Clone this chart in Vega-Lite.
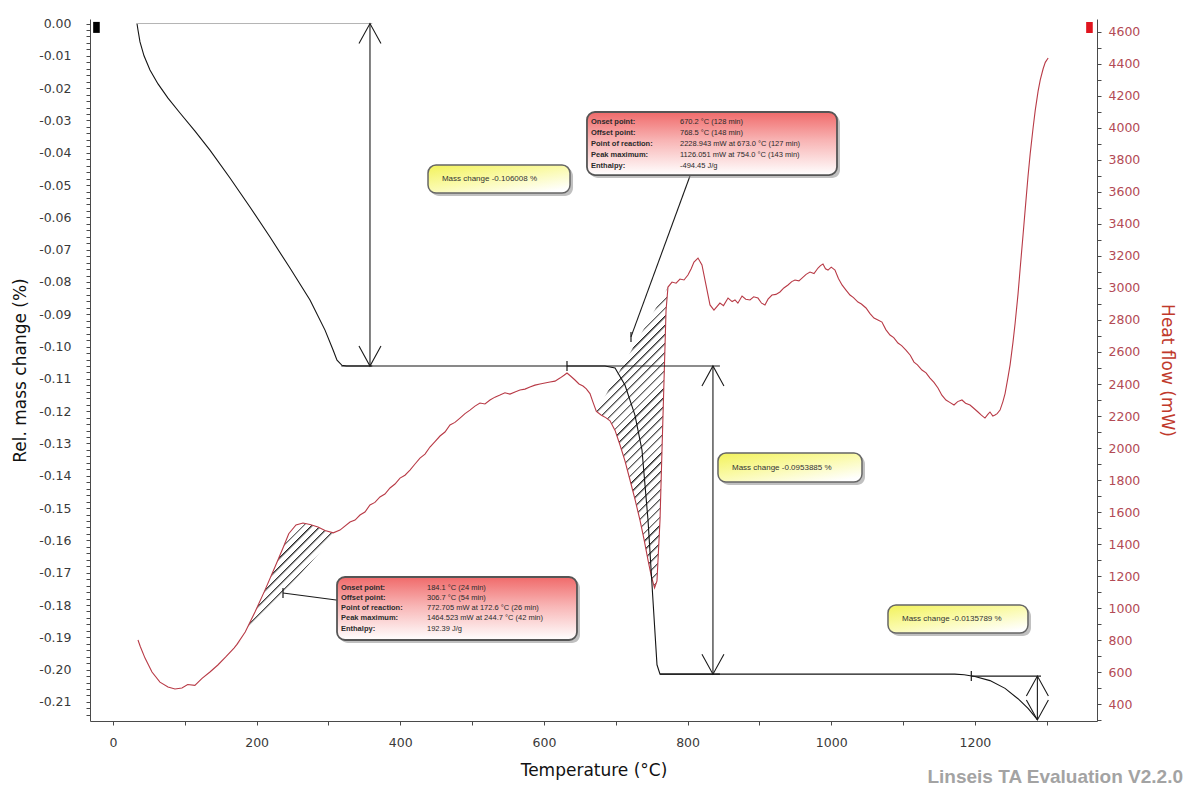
{
  "$schema": "https://vega.github.io/schema/vega-lite/v6.json",
  "width": 1007,
  "height": 702,
  "autosize": {"type": "none"},
  "padding": {"left": 90, "top": 19, "right": 93, "bottom": 73},
  "background": "#ffffff",
  "title": {
    "text": "Linseis TA Evaluation V2.2.0",
    "orient": "bottom",
    "anchor": "end",
    "frame": "group",
    "font": "Liberation Sans",
    "fontSize": 19,
    "fontWeight": "bold",
    "color": "#a3a3a3",
    "dx": 86,
    "dy": -11,
    "offset": 0
  },
  "config": {
    "view": {"stroke": null},
    "axis": {
      "grid": false,
      "labelOverlap": false,
      "tickCount": 300,
      "domainColor": "#4a4a4a",
      "tickColor": "#4a4a4a",
      "tickSize": 4,
      "labelFont": "DejaVu Sans",
      "labelFontSize": 12.5,
      "titleFont": "DejaVu Sans",
      "titleFontSize": 17,
      "titleFontWeight": "normal"
    }
  },
  "datasets": {
    "mass": [
      {"T": 33.4, "m": 0},
      {"T": 34.8, "m": -0.002},
      {"T": 37.6, "m": -0.0057},
      {"T": 43.2, "m": -0.01},
      {"T": 51.5, "m": -0.0144},
      {"T": 62.7, "m": -0.0187},
      {"T": 76.6, "m": -0.0231},
      {"T": 93.3, "m": -0.0277},
      {"T": 114.2, "m": -0.0333},
      {"T": 135.0, "m": -0.0392},
      {"T": 162.9, "m": -0.0478},
      {"T": 190.7, "m": -0.0568},
      {"T": 218.6, "m": -0.0661},
      {"T": 246.4, "m": -0.0757},
      {"T": 274.3, "m": -0.0856},
      {"T": 295.2, "m": -0.0949},
      {"T": 306.3, "m": -0.101},
      {"T": 311.9, "m": -0.1042},
      {"T": 318.8, "m": -0.1058},
      {"T": 325.0, "m": -0.106008},
      {"T": 685.0, "m": -0.106008},
      {"T": 699.0, "m": -0.1066},
      {"T": 712.8, "m": -0.1119},
      {"T": 726.7, "m": -0.1212},
      {"T": 736.5, "m": -0.132},
      {"T": 744.9, "m": -0.1537},
      {"T": 751.8, "m": -0.1785},
      {"T": 757.4, "m": -0.1985},
      {"T": 761.6, "m": -0.2013965},
      {"T": 1172.0, "m": -0.2013965},
      {"T": 1185.0, "m": -0.2016},
      {"T": 1200.0, "m": -0.2021},
      {"T": 1221.0, "m": -0.2034},
      {"T": 1242.0, "m": -0.2058},
      {"T": 1260.0, "m": -0.209},
      {"T": 1274.0, "m": -0.212},
      {"T": 1287.0, "m": -0.2155}
    ],
    "heat": [
      {"T": 34.8, "hf": 800},
      {"T": 38.0, "hf": 760},
      {"T": 44.6, "hf": 687},
      {"T": 54.3, "hf": 600},
      {"T": 65.4, "hf": 537},
      {"T": 76.6, "hf": 506},
      {"T": 86.3, "hf": 494},
      {"T": 96.0, "hf": 500},
      {"T": 104.0, "hf": 522},
      {"T": 114.0, "hf": 517},
      {"T": 124.0, "hf": 560},
      {"T": 135.0, "hf": 600},
      {"T": 146.0, "hf": 644},
      {"T": 157.0, "hf": 694},
      {"T": 168.5, "hf": 750},
      {"T": 172.6, "hf": 772.705},
      {"T": 184.1, "hf": 850},
      {"T": 197.7, "hf": 975},
      {"T": 211.6, "hf": 1112},
      {"T": 225.5, "hf": 1256},
      {"T": 236.7, "hf": 1375},
      {"T": 244.7, "hf": 1464.523},
      {"T": 254.8, "hf": 1519},
      {"T": 264.5, "hf": 1531},
      {"T": 274.3, "hf": 1522},
      {"T": 285.4, "hf": 1506},
      {"T": 295.2, "hf": 1484},
      {"T": 306.7, "hf": 1470},
      {"T": 316.0, "hf": 1487},
      {"T": 330.0, "hf": 1537},
      {"T": 337.0, "hf": 1550},
      {"T": 343.9, "hf": 1581},
      {"T": 350.8, "hf": 1600},
      {"T": 357.8, "hf": 1644},
      {"T": 364.7, "hf": 1660},
      {"T": 371.7, "hf": 1694},
      {"T": 378.6, "hf": 1712},
      {"T": 385.7, "hf": 1750},
      {"T": 392.6, "hf": 1775},
      {"T": 399.6, "hf": 1812},
      {"T": 406.5, "hf": 1830},
      {"T": 413.5, "hf": 1862},
      {"T": 420.5, "hf": 1900},
      {"T": 427.4, "hf": 1937},
      {"T": 434.4, "hf": 1962},
      {"T": 441.3, "hf": 2006},
      {"T": 448.3, "hf": 2040},
      {"T": 455.3, "hf": 2075},
      {"T": 462.2, "hf": 2100},
      {"T": 469.2, "hf": 2144},
      {"T": 476.1, "hf": 2160},
      {"T": 483.1, "hf": 2187},
      {"T": 490.1, "hf": 2215},
      {"T": 497.0, "hf": 2237},
      {"T": 504.0, "hf": 2262},
      {"T": 510.9, "hf": 2281},
      {"T": 517.9, "hf": 2275},
      {"T": 524.9, "hf": 2300},
      {"T": 531.8, "hf": 2318},
      {"T": 538.8, "hf": 2331},
      {"T": 545.7, "hf": 2345},
      {"T": 552.7, "hf": 2337},
      {"T": 559.7, "hf": 2350},
      {"T": 566.6, "hf": 2362},
      {"T": 573.6, "hf": 2368},
      {"T": 580.5, "hf": 2381},
      {"T": 587.5, "hf": 2393},
      {"T": 594.5, "hf": 2400},
      {"T": 601.4, "hf": 2406},
      {"T": 608.4, "hf": 2412},
      {"T": 615.4, "hf": 2418},
      {"T": 622.3, "hf": 2437},
      {"T": 628.0, "hf": 2455},
      {"T": 632.1, "hf": 2469},
      {"T": 637.0, "hf": 2450},
      {"T": 643.2, "hf": 2425},
      {"T": 648.8, "hf": 2400},
      {"T": 654.4, "hf": 2387},
      {"T": 659.0, "hf": 2370},
      {"T": 664.1, "hf": 2340},
      {"T": 668.0, "hf": 2290},
      {"T": 673.0, "hf": 2228.943},
      {"T": 680.0, "hf": 2205},
      {"T": 686.0, "hf": 2190},
      {"T": 692.0, "hf": 2170},
      {"T": 699.0, "hf": 2110},
      {"T": 705.9, "hf": 2019},
      {"T": 712.8, "hf": 1920},
      {"T": 719.8, "hf": 1800},
      {"T": 726.7, "hf": 1680},
      {"T": 733.7, "hf": 1550},
      {"T": 739.3, "hf": 1430},
      {"T": 744.9, "hf": 1300},
      {"T": 749.5, "hf": 1200},
      {"T": 754.0, "hf": 1126.051},
      {"T": 757.4, "hf": 1170},
      {"T": 761.6, "hf": 1550},
      {"T": 764.4, "hf": 1990},
      {"T": 767.2, "hf": 2425},
      {"T": 770.0, "hf": 2860},
      {"T": 772.7, "hf": 3006},
      {"T": 778.3, "hf": 3037},
      {"T": 784.0, "hf": 3030},
      {"T": 789.4, "hf": 3056},
      {"T": 795.0, "hf": 3050},
      {"T": 800.5, "hf": 3081},
      {"T": 805.0, "hf": 3120},
      {"T": 808.9, "hf": 3162},
      {"T": 814.5, "hf": 3187},
      {"T": 820.0, "hf": 3144},
      {"T": 825.6, "hf": 3019},
      {"T": 831.2, "hf": 2894},
      {"T": 836.7, "hf": 2862},
      {"T": 845.0, "hf": 2906},
      {"T": 850.0, "hf": 2890},
      {"T": 856.3, "hf": 2937},
      {"T": 862.0, "hf": 2915},
      {"T": 866.0, "hf": 2925},
      {"T": 870.0, "hf": 2905},
      {"T": 875.8, "hf": 2950},
      {"T": 881.0, "hf": 2930},
      {"T": 886.9, "hf": 2925},
      {"T": 892.0, "hf": 2945},
      {"T": 898.0, "hf": 2937},
      {"T": 903.0, "hf": 2905},
      {"T": 907.7, "hf": 2894},
      {"T": 912.0, "hf": 2930},
      {"T": 917.5, "hf": 2956},
      {"T": 923.0, "hf": 2960},
      {"T": 928.6, "hf": 2975},
      {"T": 934.0, "hf": 3000},
      {"T": 939.8, "hf": 3019},
      {"T": 945.0, "hf": 3040},
      {"T": 949.5, "hf": 3050},
      {"T": 955.0, "hf": 3045},
      {"T": 959.3, "hf": 3062},
      {"T": 965.0, "hf": 3085},
      {"T": 970.4, "hf": 3100},
      {"T": 976.0, "hf": 3090},
      {"T": 981.6, "hf": 3125},
      {"T": 985.0, "hf": 3140},
      {"T": 988.5, "hf": 3150},
      {"T": 992.0, "hf": 3120},
      {"T": 995.5, "hf": 3112},
      {"T": 1000.0, "hf": 3130},
      {"T": 1005.2, "hf": 3112},
      {"T": 1010.0, "hf": 3060},
      {"T": 1015.0, "hf": 3019},
      {"T": 1020.0, "hf": 2990},
      {"T": 1026.1, "hf": 2956},
      {"T": 1031.0, "hf": 2940},
      {"T": 1037.2, "hf": 2912},
      {"T": 1042.0, "hf": 2900},
      {"T": 1048.4, "hf": 2875},
      {"T": 1054.0, "hf": 2840},
      {"T": 1059.5, "hf": 2812},
      {"T": 1065.0, "hf": 2800},
      {"T": 1070.6, "hf": 2787},
      {"T": 1076.0, "hf": 2740},
      {"T": 1081.8, "hf": 2706},
      {"T": 1087.0, "hf": 2690},
      {"T": 1092.9, "hf": 2656},
      {"T": 1098.0, "hf": 2640},
      {"T": 1104.0, "hf": 2612},
      {"T": 1110.0, "hf": 2580},
      {"T": 1115.2, "hf": 2537},
      {"T": 1120.0, "hf": 2520},
      {"T": 1126.3, "hf": 2487},
      {"T": 1132.0, "hf": 2470},
      {"T": 1137.5, "hf": 2437},
      {"T": 1143.0, "hf": 2410},
      {"T": 1148.6, "hf": 2375},
      {"T": 1154.0, "hf": 2330},
      {"T": 1159.7, "hf": 2300},
      {"T": 1165.0, "hf": 2285},
      {"T": 1170.9, "hf": 2269},
      {"T": 1176.0, "hf": 2290},
      {"T": 1182.0, "hf": 2300},
      {"T": 1187.0, "hf": 2280},
      {"T": 1193.2, "hf": 2269},
      {"T": 1198.0, "hf": 2250},
      {"T": 1204.3, "hf": 2225},
      {"T": 1209.0, "hf": 2205},
      {"T": 1214.0, "hf": 2187},
      {"T": 1218.0, "hf": 2210},
      {"T": 1221.0, "hf": 2225},
      {"T": 1225.0, "hf": 2200},
      {"T": 1228.0, "hf": 2206},
      {"T": 1231.0, "hf": 2215},
      {"T": 1235.0, "hf": 2237},
      {"T": 1239.0, "hf": 2290},
      {"T": 1242.0, "hf": 2340},
      {"T": 1246.0, "hf": 2440},
      {"T": 1249.0, "hf": 2520},
      {"T": 1253.0, "hf": 2660},
      {"T": 1256.0, "hf": 2780},
      {"T": 1260.0, "hf": 2960},
      {"T": 1263.0, "hf": 3120},
      {"T": 1267.0, "hf": 3330},
      {"T": 1270.0, "hf": 3490},
      {"T": 1274.0, "hf": 3700},
      {"T": 1277.0, "hf": 3840},
      {"T": 1281.0, "hf": 4000},
      {"T": 1284.0, "hf": 4110},
      {"T": 1288.0, "hf": 4230},
      {"T": 1291.0, "hf": 4300},
      {"T": 1295.0, "hf": 4370},
      {"T": 1298.0, "hf": 4410},
      {"T": 1302.0, "hf": 4437}
    ],
    "segments": [
      {"x1": 33.4, "x2": 361, "y1": 0, "y2": 0, "k": "guide"},
      {"x1": 357.8, "x2": 357.8, "y1": 0, "y2": -0.106008, "k": "main"},
      {"x1": 318, "x2": 361, "y1": -0.106008, "y2": -0.106008, "k": "main"},
      {"x1": 632.1, "x2": 845, "y1": -0.106008, "y2": -0.106008, "k": "main"},
      {"x1": 835.3, "x2": 835.3, "y1": -0.106008, "y2": -0.2013965, "k": "main"},
      {"x1": 761.6, "x2": 845, "y1": -0.2013965, "y2": -0.2013965, "k": "main"},
      {"x1": 1195, "x2": 1292, "y1": -0.202, "y2": -0.202, "k": "main"},
      {"x1": 1287, "x2": 1287, "y1": -0.202, "y2": -0.2155789, "k": "main"},
      {"x1": 313.3, "x2": 236.7, "y1": -0.1785, "y2": -0.1763, "k": "main"},
      {"x1": 803.3, "x2": 721.2, "y1": -0.0472, "y2": -0.097, "k": "main"}
    ],
    "heads": [
      {"T": 357.8, "m": 0, "dir": "up"},
      {"T": 357.8, "m": -0.106008, "dir": "down"},
      {"T": 835.3, "m": -0.106008, "dir": "up"},
      {"T": 835.3, "m": -0.2013965, "dir": "down"},
      {"T": 1287, "m": -0.202, "dir": "up"},
      {"T": 1287, "m": -0.2155789, "dir": "down"}
    ],
    "ticks": [
      {"T": 632.1, "m": -0.106008},
      {"T": 1195, "m": -0.202},
      {"T": 236.7, "m": -0.1763},
      {"T": 721.2, "m": -0.097}
    ],
    "boxes": [
      {"kind": "red", "x1": 659.9, "x2": 1008.0, "y1": -0.02739, "y2": -0.0469},
      {"kind": "red", "x1": 311.9, "x2": 646.0, "y1": -0.17133, "y2": -0.19083},
      {"kind": "yellow", "x1": 438.6, "x2": 636.3, "y1": -0.0438, "y2": -0.05247},
      {"kind": "yellow", "x1": 842.3, "x2": 1042.8, "y1": -0.13295, "y2": -0.14192},
      {"kind": "yellow", "x1": 1079.0, "x2": 1273.9, "y1": -0.17999, "y2": -0.18866}
    ],
    "notes": [
      {"T": 457.9, "m": -0.04813, "text": "Mass change   -0.106008 %", "col": "mass"},
      {"T": 861.8, "m": -0.13744, "text": "Mass change   -0.0953885 %", "col": "mass"},
      {"T": 1098.5, "m": -0.18433, "text": "Mass change   -0.0135789 %", "col": "mass"},
      {"T": 665.5, "m": -0.03049, "text": "Onset point:", "col": "lab"},
      {"T": 665.5, "m": -0.03389, "text": "Offset point:", "col": "lab"},
      {"T": 665.5, "m": -0.0373, "text": "Point of reaction:", "col": "lab"},
      {"T": 665.5, "m": -0.0407, "text": "Peak maximum:", "col": "lab"},
      {"T": 665.5, "m": -0.04411, "text": "Enthalpy:", "col": "lab"},
      {"T": 789.4, "m": -0.03049, "text": "670.2 °C (128 min)", "col": "val"},
      {"T": 789.4, "m": -0.03389, "text": "768.5 °C (148 min)", "col": "val"},
      {"T": 789.4, "m": -0.0373, "text": "2228.943 mW at 673.0 °C (127 min)", "col": "val"},
      {"T": 789.4, "m": -0.0407, "text": "1126.051 mW at 754.0 °C (143 min)", "col": "val"},
      {"T": 789.4, "m": -0.04411, "text": "-494.45 J/g", "col": "val"},
      {"T": 317.4, "m": -0.17473, "text": "Onset point:", "col": "lab"},
      {"T": 317.4, "m": -0.17783, "text": "Offset point:", "col": "lab"},
      {"T": 317.4, "m": -0.18092, "text": "Point of reaction:", "col": "lab"},
      {"T": 317.4, "m": -0.18402, "text": "Peak maximum:", "col": "lab"},
      {"T": 317.4, "m": -0.18743, "text": "Enthalpy:", "col": "lab"},
      {"T": 437.2, "m": -0.17473, "text": "184.1 °C (24 min)", "col": "val"},
      {"T": 437.2, "m": -0.17783, "text": "306.7 °C (54 min)", "col": "val"},
      {"T": 437.2, "m": -0.18092, "text": "772.705 mW at 172.6 °C (26 min)", "col": "val"},
      {"T": 437.2, "m": -0.18402, "text": "1464.523 mW at 244.7 °C (42 min)", "col": "val"},
      {"T": 437.2, "m": -0.18743, "text": "192.39 J/g", "col": "val"}
    ]
  },
  "layer": [
    {
      "layer": [
        {
          "data": {"name": "heat"},
          "transform": [{"filter": {"field": "T", "range": [168.5, 316]}}],
          "mark": {
            "type": "line",
            "strokeOpacity": 0,
            "fill": {
              "gradient": "linear", "x1": 0, "y1": 0, "x2": 0.9116, "y2": 1.075,
              "stops": [
                {"offset": 0, "color": "#262626"}, {"offset": 0.012, "color": "#ffffff"}, {"offset": 0.03846, "color": "#ffffff"},
                {"offset": 0.03846, "color": "#262626"}, {"offset": 0.05046, "color": "#ffffff"}, {"offset": 0.07692, "color": "#ffffff"},
                {"offset": 0.07692, "color": "#262626"}, {"offset": 0.08892, "color": "#ffffff"}, {"offset": 0.11538, "color": "#ffffff"},
                {"offset": 0.11538, "color": "#262626"}, {"offset": 0.12738, "color": "#ffffff"}, {"offset": 0.15385, "color": "#ffffff"},
                {"offset": 0.15385, "color": "#262626"}, {"offset": 0.16585, "color": "#ffffff"}, {"offset": 0.19231, "color": "#ffffff"},
                {"offset": 0.19231, "color": "#262626"}, {"offset": 0.20431, "color": "#ffffff"}, {"offset": 0.23077, "color": "#ffffff"},
                {"offset": 0.23077, "color": "#262626"}, {"offset": 0.24277, "color": "#ffffff"}, {"offset": 0.26923, "color": "#ffffff"},
                {"offset": 0.26923, "color": "#262626"}, {"offset": 0.28123, "color": "#ffffff"}, {"offset": 0.30769, "color": "#ffffff"},
                {"offset": 0.30769, "color": "#262626"}, {"offset": 0.31969, "color": "#ffffff"}, {"offset": 0.34615, "color": "#ffffff"},
                {"offset": 0.34615, "color": "#262626"}, {"offset": 0.35815, "color": "#ffffff"}, {"offset": 0.38462, "color": "#ffffff"},
                {"offset": 0.38462, "color": "#262626"}, {"offset": 0.39662, "color": "#ffffff"}, {"offset": 0.42308, "color": "#ffffff"},
                {"offset": 0.42308, "color": "#262626"}, {"offset": 0.43508, "color": "#ffffff"}, {"offset": 0.46154, "color": "#ffffff"},
                {"offset": 0.46154, "color": "#262626"}, {"offset": 0.47354, "color": "#ffffff"}, {"offset": 0.5, "color": "#ffffff"},
                {"offset": 0.5, "color": "#262626"}, {"offset": 0.512, "color": "#ffffff"}, {"offset": 0.53846, "color": "#ffffff"},
                {"offset": 0.53846, "color": "#262626"}, {"offset": 0.55046, "color": "#ffffff"}, {"offset": 0.57692, "color": "#ffffff"},
                {"offset": 0.57692, "color": "#262626"}, {"offset": 0.58892, "color": "#ffffff"}, {"offset": 0.61538, "color": "#ffffff"},
                {"offset": 0.61538, "color": "#262626"}, {"offset": 0.62738, "color": "#ffffff"}, {"offset": 0.65385, "color": "#ffffff"},
                {"offset": 0.65385, "color": "#262626"}, {"offset": 0.66585, "color": "#ffffff"}, {"offset": 0.69231, "color": "#ffffff"},
                {"offset": 0.69231, "color": "#262626"}, {"offset": 0.70431, "color": "#ffffff"}, {"offset": 0.73077, "color": "#ffffff"},
                {"offset": 0.73077, "color": "#262626"}, {"offset": 0.74277, "color": "#ffffff"}, {"offset": 0.76923, "color": "#ffffff"},
                {"offset": 0.76923, "color": "#262626"}, {"offset": 0.78123, "color": "#ffffff"}, {"offset": 0.80769, "color": "#ffffff"},
                {"offset": 0.80769, "color": "#262626"}, {"offset": 0.81969, "color": "#ffffff"}, {"offset": 0.84615, "color": "#ffffff"},
                {"offset": 0.84615, "color": "#262626"}, {"offset": 0.85815, "color": "#ffffff"}, {"offset": 0.88462, "color": "#ffffff"},
                {"offset": 0.88462, "color": "#262626"}, {"offset": 0.89662, "color": "#ffffff"}, {"offset": 0.92308, "color": "#ffffff"},
                {"offset": 0.92308, "color": "#262626"}, {"offset": 0.93508, "color": "#ffffff"}, {"offset": 0.96154, "color": "#ffffff"},
                {"offset": 0.96154, "color": "#262626"}, {"offset": 0.97354, "color": "#ffffff"}, {"offset": 1, "color": "#ffffff"}
              ]
            }
          },
          "encoding": {
            "x": {"field": "T", "type": "quantitative", "scale": {"domain": [-32, 1370], "nice": false, "zero": false}},
            "y": {"field": "hf", "type": "quantitative", "scale": {"domain": [294, 4681], "nice": false, "zero": false}},
            "order": {"field": "T", "type": "quantitative"}
          }
        },
        {
          "data": {"name": "heat"},
          "transform": [{"filter": {"field": "T", "range": [673.0, 772.7]}}],
          "mark": {
            "type": "line",
            "strokeOpacity": 0,
            "fill": {
              "gradient": "linear", "x1": 0, "y1": 0, "x2": 0.2787, "y2": 1.1716,
              "stops": [
                {"offset": 0, "color": "#262626"}, {"offset": 0.008, "color": "#ffffff"}, {"offset": 0.02381, "color": "#ffffff"},
                {"offset": 0.02381, "color": "#262626"}, {"offset": 0.03181, "color": "#ffffff"}, {"offset": 0.04762, "color": "#ffffff"},
                {"offset": 0.04762, "color": "#262626"}, {"offset": 0.05562, "color": "#ffffff"}, {"offset": 0.07143, "color": "#ffffff"},
                {"offset": 0.07143, "color": "#262626"}, {"offset": 0.07943, "color": "#ffffff"}, {"offset": 0.09524, "color": "#ffffff"},
                {"offset": 0.09524, "color": "#262626"}, {"offset": 0.10324, "color": "#ffffff"}, {"offset": 0.11905, "color": "#ffffff"},
                {"offset": 0.11905, "color": "#262626"}, {"offset": 0.12705, "color": "#ffffff"}, {"offset": 0.14286, "color": "#ffffff"},
                {"offset": 0.14286, "color": "#262626"}, {"offset": 0.15086, "color": "#ffffff"}, {"offset": 0.16667, "color": "#ffffff"},
                {"offset": 0.16667, "color": "#262626"}, {"offset": 0.17467, "color": "#ffffff"}, {"offset": 0.19048, "color": "#ffffff"},
                {"offset": 0.19048, "color": "#262626"}, {"offset": 0.19848, "color": "#ffffff"}, {"offset": 0.21429, "color": "#ffffff"},
                {"offset": 0.21429, "color": "#262626"}, {"offset": 0.22229, "color": "#ffffff"}, {"offset": 0.2381, "color": "#ffffff"},
                {"offset": 0.2381, "color": "#262626"}, {"offset": 0.2461, "color": "#ffffff"}, {"offset": 0.2619, "color": "#ffffff"},
                {"offset": 0.2619, "color": "#262626"}, {"offset": 0.2699, "color": "#ffffff"}, {"offset": 0.28571, "color": "#ffffff"},
                {"offset": 0.28571, "color": "#262626"}, {"offset": 0.29371, "color": "#ffffff"}, {"offset": 0.30952, "color": "#ffffff"},
                {"offset": 0.30952, "color": "#262626"}, {"offset": 0.31752, "color": "#ffffff"}, {"offset": 0.33333, "color": "#ffffff"},
                {"offset": 0.33333, "color": "#262626"}, {"offset": 0.34133, "color": "#ffffff"}, {"offset": 0.35714, "color": "#ffffff"},
                {"offset": 0.35714, "color": "#262626"}, {"offset": 0.36514, "color": "#ffffff"}, {"offset": 0.38095, "color": "#ffffff"},
                {"offset": 0.38095, "color": "#262626"}, {"offset": 0.38895, "color": "#ffffff"}, {"offset": 0.40476, "color": "#ffffff"},
                {"offset": 0.40476, "color": "#262626"}, {"offset": 0.41276, "color": "#ffffff"}, {"offset": 0.42857, "color": "#ffffff"},
                {"offset": 0.42857, "color": "#262626"}, {"offset": 0.43657, "color": "#ffffff"}, {"offset": 0.45238, "color": "#ffffff"},
                {"offset": 0.45238, "color": "#262626"}, {"offset": 0.46038, "color": "#ffffff"}, {"offset": 0.47619, "color": "#ffffff"},
                {"offset": 0.47619, "color": "#262626"}, {"offset": 0.48419, "color": "#ffffff"}, {"offset": 0.5, "color": "#ffffff"},
                {"offset": 0.5, "color": "#262626"}, {"offset": 0.508, "color": "#ffffff"}, {"offset": 0.52381, "color": "#ffffff"},
                {"offset": 0.52381, "color": "#262626"}, {"offset": 0.53181, "color": "#ffffff"}, {"offset": 0.54762, "color": "#ffffff"},
                {"offset": 0.54762, "color": "#262626"}, {"offset": 0.55562, "color": "#ffffff"}, {"offset": 0.57143, "color": "#ffffff"},
                {"offset": 0.57143, "color": "#262626"}, {"offset": 0.57943, "color": "#ffffff"}, {"offset": 0.59524, "color": "#ffffff"},
                {"offset": 0.59524, "color": "#262626"}, {"offset": 0.60324, "color": "#ffffff"}, {"offset": 0.61905, "color": "#ffffff"},
                {"offset": 0.61905, "color": "#262626"}, {"offset": 0.62705, "color": "#ffffff"}, {"offset": 0.64286, "color": "#ffffff"},
                {"offset": 0.64286, "color": "#262626"}, {"offset": 0.65086, "color": "#ffffff"}, {"offset": 0.66667, "color": "#ffffff"},
                {"offset": 0.66667, "color": "#262626"}, {"offset": 0.67467, "color": "#ffffff"}, {"offset": 0.69048, "color": "#ffffff"},
                {"offset": 0.69048, "color": "#262626"}, {"offset": 0.69848, "color": "#ffffff"}, {"offset": 0.71429, "color": "#ffffff"},
                {"offset": 0.71429, "color": "#262626"}, {"offset": 0.72229, "color": "#ffffff"}, {"offset": 0.7381, "color": "#ffffff"},
                {"offset": 0.7381, "color": "#262626"}, {"offset": 0.7461, "color": "#ffffff"}, {"offset": 0.7619, "color": "#ffffff"},
                {"offset": 0.7619, "color": "#262626"}, {"offset": 0.7699, "color": "#ffffff"}, {"offset": 0.78571, "color": "#ffffff"},
                {"offset": 0.78571, "color": "#262626"}, {"offset": 0.79371, "color": "#ffffff"}, {"offset": 0.80952, "color": "#ffffff"},
                {"offset": 0.80952, "color": "#262626"}, {"offset": 0.81752, "color": "#ffffff"}, {"offset": 0.83333, "color": "#ffffff"},
                {"offset": 0.83333, "color": "#262626"}, {"offset": 0.84133, "color": "#ffffff"}, {"offset": 0.85714, "color": "#ffffff"},
                {"offset": 0.85714, "color": "#262626"}, {"offset": 0.86514, "color": "#ffffff"}, {"offset": 0.88095, "color": "#ffffff"},
                {"offset": 0.88095, "color": "#262626"}, {"offset": 0.88895, "color": "#ffffff"}, {"offset": 0.90476, "color": "#ffffff"},
                {"offset": 0.90476, "color": "#262626"}, {"offset": 0.91276, "color": "#ffffff"}, {"offset": 0.92857, "color": "#ffffff"},
                {"offset": 0.92857, "color": "#262626"}, {"offset": 0.93657, "color": "#ffffff"}, {"offset": 0.95238, "color": "#ffffff"},
                {"offset": 0.95238, "color": "#262626"}, {"offset": 0.96038, "color": "#ffffff"}, {"offset": 0.97619, "color": "#ffffff"},
                {"offset": 0.97619, "color": "#262626"}, {"offset": 0.98419, "color": "#ffffff"}, {"offset": 1, "color": "#ffffff"}
              ]
            }
          },
          "encoding": {
            "x": {"field": "T", "type": "quantitative", "scale": {"domain": [-32, 1370], "nice": false, "zero": false}},
            "y": {"field": "hf", "type": "quantitative", "scale": {"domain": [294, 4681], "nice": false, "zero": false}},
            "order": {"field": "T", "type": "quantitative"}
          }
        },
        {
          "data": {"name": "heat"},
          "mark": {"type": "line", "color": "#b83a46", "strokeWidth": 1.1},
          "encoding": {
            "x": {"field": "T", "type": "quantitative", "scale": {"domain": [-32, 1370], "nice": false, "zero": false}},
            "y": {
              "field": "hf", "type": "quantitative",
              "scale": {"domain": [294, 4681], "nice": false, "zero": false},
              "axis": {
                "orient": "right",
                "title": "Heat flow (mW)",
                "titleColor": "#c0392b",
                "labelColor": "#b34a55",
                "tickCount": 300,
                "values": [300, 400, 500, 600, 700, 800, 900, 1000, 1100, 1200, 1300, 1400, 1500, 1600, 1700, 1800, 1900, 2000, 2100, 2200, 2300, 2400, 2500, 2600, 2700, 2800, 2900, 3000, 3100, 3200, 3300, 3400, 3500, 3600, 3700, 3800, 3900, 4000, 4100, 4200, 4300, 4400, 4500, 4600],
                "labelExpr": "datum.value % 200 === 0 && datum.value >= 400 ? format(datum.value, 'd') : ''",
                "labelPadding": 7,
                "titlePadding": 18
              }
            }
          }
        },
        {
          "data": {"values": [{"T": 1359.5, "hf": 4628}]},
          "mark": {"type": "point", "shape": "M-0.6,-1L0.6,-1L0.6,1L-0.6,1Z", "size": 121, "filled": true, "color": "#e0141e", "opacity": 1},
          "encoding": {
            "x": {"field": "T", "type": "quantitative", "scale": {"domain": [-32, 1370], "nice": false, "zero": false}},
            "y": {"field": "hf", "type": "quantitative", "scale": {"domain": [294, 4681], "nice": false, "zero": false}}
          }
        }
      ]
    },
    {
      "layer": [
        {
          "data": {"name": "mass"},
          "mark": {"type": "line", "color": "#141414", "strokeWidth": 1.1},
          "encoding": {
            "x": {
              "field": "T", "type": "quantitative",
              "scale": {"domain": [-32, 1370], "nice": false, "zero": false},
              "axis": {
                "title": "Temperature (°C)",
                "titleColor": "#111111",
                "labelColor": "#3a3a3a",
                "tickCount": 300,
                "values": [0, 100, 200, 300, 400, 500, 600, 700, 800, 900, 1000, 1100, 1200, 1300],
                "labelExpr": "datum.value % 200 === 0 ? format(datum.value, 'd') : ''",
                "labelPadding": 11,
                "titlePadding": 14
              }
            },
            "y": {
              "field": "m", "type": "quantitative",
              "scale": {"domain": [-0.2159, 0.0014], "nice": false, "zero": false},
              "axis": {
                "orient": "left",
                "title": "Rel. mass change (%)",
                "titleColor": "#111111",
                "labelColor": "#3a3a3a",
                "tickCount": 300,
                "values": [0, -0.002, -0.004, -0.006, -0.008, -0.01, -0.012, -0.014, -0.016, -0.018, -0.02, -0.022, -0.024, -0.026, -0.028, -0.03, -0.032, -0.034, -0.036, -0.038, -0.04, -0.042, -0.044, -0.046, -0.048, -0.05, -0.052, -0.054, -0.056, -0.058, -0.06, -0.062, -0.064, -0.066, -0.068, -0.07, -0.072, -0.074, -0.076, -0.078, -0.08, -0.082, -0.084, -0.086, -0.088, -0.09, -0.092, -0.094, -0.096, -0.098, -0.1, -0.102, -0.104, -0.106, -0.108, -0.11, -0.112, -0.114, -0.116, -0.118, -0.12, -0.122, -0.124, -0.126, -0.128, -0.13, -0.132, -0.134, -0.136, -0.138, -0.14, -0.142, -0.144, -0.146, -0.148, -0.15, -0.152, -0.154, -0.156, -0.158, -0.16, -0.162, -0.164, -0.166, -0.168, -0.17, -0.172, -0.174, -0.176, -0.178, -0.18, -0.182, -0.184, -0.186, -0.188, -0.19, -0.192, -0.194, -0.196, -0.198, -0.2, -0.202, -0.204, -0.206, -0.208, -0.21, -0.212, -0.214],
                "labelExpr": "abs(round(datum.value * 1000)) % 10 === 0 ? (datum.value === 0 ? '0.00' : '-' + format(abs(datum.value), '.2f')) : ''",
                "labelPadding": 15,
                "titlePadding": 9
              }
            }
          }
        },
        {
          "data": {"name": "segments"},
          "transform": [{"filter": "datum.k === 'guide'"}],
          "mark": {"type": "rule", "color": "#b4b4b4", "strokeWidth": 1},
          "encoding": {
            "x": {"field": "x1", "type": "quantitative", "scale": {"domain": [-32, 1370], "nice": false, "zero": false}},
            "x2": {"field": "x2"},
            "y": {"field": "y1", "type": "quantitative", "scale": {"domain": [-0.2159, 0.0014], "nice": false, "zero": false}},
            "y2": {"field": "y2"}
          }
        },
        {
          "data": {"name": "segments"},
          "transform": [{"filter": "datum.k === 'main'"}],
          "mark": {"type": "rule", "color": "#1a1a1a", "strokeWidth": 1.1},
          "encoding": {
            "x": {"field": "x1", "type": "quantitative", "scale": {"domain": [-32, 1370], "nice": false, "zero": false}},
            "x2": {"field": "x2"},
            "y": {"field": "y1", "type": "quantitative", "scale": {"domain": [-0.2159, 0.0014], "nice": false, "zero": false}},
            "y2": {"field": "y2"}
          }
        },
        {
          "data": {"name": "heads"},
          "mark": {"type": "point", "filled": false, "size": 1600, "stroke": "#1a1a1a", "strokeWidth": 1.1, "opacity": 1},
          "encoding": {
            "x": {"field": "T", "type": "quantitative", "scale": {"domain": [-32, 1370], "nice": false, "zero": false}},
            "y": {"field": "m", "type": "quantitative", "scale": {"domain": [-0.2159, 0.0014], "nice": false, "zero": false}},
            "shape": {"field": "dir", "type": "nominal", "scale": {"domain": ["up", "down"], "range": ["M-0.55,1L0,0L0.55,1", "M-0.55,-1L0,0L0.55,-1"]}, "legend": null}
          }
        },
        {
          "data": {"name": "ticks"},
          "mark": {"type": "point", "filled": false, "shape": "M0,-1L0,1", "size": 100, "stroke": "#1a1a1a", "strokeWidth": 1.2, "opacity": 1},
          "encoding": {
            "x": {"field": "T", "type": "quantitative", "scale": {"domain": [-32, 1370], "nice": false, "zero": false}},
            "y": {"field": "m", "type": "quantitative", "scale": {"domain": [-0.2159, 0.0014], "nice": false, "zero": false}}
          }
        },
        {
          "data": {"name": "boxes"},
          "mark": {"type": "rect", "cornerRadius": 8, "fill": "#8c8c8c", "opacity": 0.55, "xOffset": 3, "x2Offset": 3, "yOffset": 3, "y2Offset": 3},
          "encoding": {
            "x": {"field": "x1", "type": "quantitative", "scale": {"domain": [-32, 1370], "nice": false, "zero": false}},
            "x2": {"field": "x2"},
            "y": {"field": "y1", "type": "quantitative", "scale": {"domain": [-0.2159, 0.0014], "nice": false, "zero": false}},
            "y2": {"field": "y2"}
          }
        },
        {
          "data": {"name": "boxes"},
          "transform": [{"filter": "datum.kind === 'red'"}],
          "mark": {
            "type": "rect", "cornerRadius": 8, "stroke": "#555555", "strokeWidth": 1.8,
            "fill": {"gradient": "linear", "x1": 0, "y1": 0, "x2": 0, "y2": 1, "stops": [{"offset": 0, "color": "#f06a6a"}, {"offset": 0.45, "color": "#f8b4b4"}, {"offset": 1, "color": "#ffffff"}]}
          },
          "encoding": {
            "x": {"field": "x1", "type": "quantitative", "scale": {"domain": [-32, 1370], "nice": false, "zero": false}},
            "x2": {"field": "x2"},
            "y": {"field": "y1", "type": "quantitative", "scale": {"domain": [-0.2159, 0.0014], "nice": false, "zero": false}},
            "y2": {"field": "y2"}
          }
        },
        {
          "data": {"name": "boxes"},
          "transform": [{"filter": "datum.kind === 'yellow'"}],
          "mark": {
            "type": "rect", "cornerRadius": 8, "stroke": "#666666", "strokeWidth": 1.5,
            "fill": {"gradient": "linear", "x1": 0, "y1": 0, "x2": 0.8, "y2": 1, "stops": [{"offset": 0, "color": "#f2f25a"}, {"offset": 0.5, "color": "#fafaa8"}, {"offset": 1, "color": "#ffffff"}]}
          },
          "encoding": {
            "x": {"field": "x1", "type": "quantitative", "scale": {"domain": [-32, 1370], "nice": false, "zero": false}},
            "x2": {"field": "x2"},
            "y": {"field": "y1", "type": "quantitative", "scale": {"domain": [-0.2159, 0.0014], "nice": false, "zero": false}},
            "y2": {"field": "y2"}
          }
        },
        {
          "data": {"name": "notes"},
          "transform": [{"filter": "datum.col === 'mass'"}],
          "mark": {"type": "text", "align": "left", "baseline": "middle", "font": "Liberation Sans", "fontSize": 8, "color": "#333333"},
          "encoding": {
            "x": {"field": "T", "type": "quantitative", "scale": {"domain": [-32, 1370], "nice": false, "zero": false}},
            "y": {"field": "m", "type": "quantitative", "scale": {"domain": [-0.2159, 0.0014], "nice": false, "zero": false}},
            "text": {"field": "text"}
          }
        },
        {
          "data": {"name": "notes"},
          "transform": [{"filter": "datum.col === 'lab'"}],
          "mark": {"type": "text", "align": "left", "baseline": "middle", "font": "Liberation Sans", "fontSize": 7.5, "fontWeight": "bold", "color": "#2a2a2a"},
          "encoding": {
            "x": {"field": "T", "type": "quantitative", "scale": {"domain": [-32, 1370], "nice": false, "zero": false}},
            "y": {"field": "m", "type": "quantitative", "scale": {"domain": [-0.2159, 0.0014], "nice": false, "zero": false}},
            "text": {"field": "text"}
          }
        },
        {
          "data": {"name": "notes"},
          "transform": [{"filter": "datum.col === 'val'"}],
          "mark": {"type": "text", "align": "left", "baseline": "middle", "font": "Liberation Sans", "fontSize": 7.5, "color": "#2a2a2a"},
          "encoding": {
            "x": {"field": "T", "type": "quantitative", "scale": {"domain": [-32, 1370], "nice": false, "zero": false}},
            "y": {"field": "m", "type": "quantitative", "scale": {"domain": [-0.2159, 0.0014], "nice": false, "zero": false}},
            "text": {"field": "text"}
          }
        },
        {
          "data": {"values": [{"T": -23, "m": -0.0012}]},
          "mark": {"type": "point", "shape": "M-0.6,-1L0.6,-1L0.6,1L-0.6,1Z", "size": 121, "filled": true, "color": "#000000", "opacity": 1},
          "encoding": {
            "x": {"field": "T", "type": "quantitative", "scale": {"domain": [-32, 1370], "nice": false, "zero": false}},
            "y": {"field": "m", "type": "quantitative", "scale": {"domain": [-0.2159, 0.0014], "nice": false, "zero": false}}
          }
        }
      ]
    }
  ],
  "resolve": {"scale": {"y": "independent"}}
}
